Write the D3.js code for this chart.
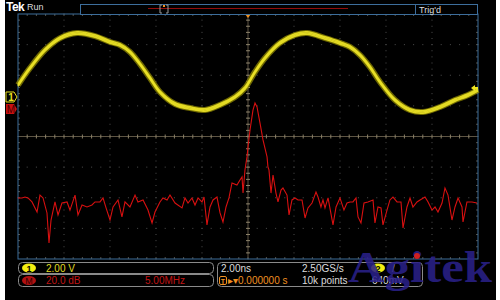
<!DOCTYPE html>
<html>
<head>
<meta charset="utf-8">
<script src="https://cdn.jsdelivr.net/npm/d3@7"></script>
<style>
  html, body { margin: 0; padding: 0; background: #fff; }
  svg { display: block; font-family: "Liberation Sans", Arial, sans-serif; }
</style>
</head>
<body>
<svg id="scope" width="500" height="300"></svg>
<script>
// channel 1 (yellow) - time in ns, level in volts
const ch1Time  = [-10.0, -9.48, -8.83, -8.17, -7.43, -6.65, -6.0, -5.57, -5.13, -4.70, -4.26, -3.83, -3.17, -2.52, -1.87, -1.22, -0.57, -0.13,
                  0.30, 0.74, 1.39, 2.04, 2.57, 3.35, 4.0, 4.43, 4.87, 5.30, 5.74, 6.39, 7.04, 7.61, 8.35, 9.0, 9.57, 10.0];
const ch1Volts = [0.78, 1.89, 3.07, 3.85, 4.18, 3.98, 3.59, 3.40, 2.94, 2.16, 1.24, 0.33, -0.46, -0.72, -0.85, -0.52, 0.0, 0.59,
                  1.63, 2.55, 3.53, 4.05, 4.18, 3.85, 3.53, 3.27, 2.74, 1.96, 0.98, -0.20, -0.85, -0.98, -0.65, -0.20, 0.13, 0.46];

// math trace M (red FFT) - frequency in MHz, magnitude in dB
const fftFreq = [0.0, 0.43, 0.76, 1.09, 1.52, 2.07, 2.39, 2.72, 3.15, 3.37, 3.59, 4.02, 4.35, 4.78, 5.33, 5.65, 6.20, 6.52, 6.96, 7.50,
  8.04, 8.37, 8.91, 9.24, 9.57, 10.0, 10.33, 10.87, 11.30, 11.63, 12.17, 12.72, 13.04, 13.59, 14.13, 14.57, 14.89, 15.43, 15.76, 16.20,
  16.52, 17.07, 17.83, 18.15, 18.48, 18.91, 19.24, 19.57, 20.0, 20.22, 20.54, 20.87, 21.20, 21.63, 21.96, 22.28, 22.61, 22.93, 23.26, 23.80,
  24.13, 24.35, 24.46, 24.67, 24.89, 25.0, 25.22, 25.54, 25.76, 25.98, 26.30, 26.63, 27.07, 27.17, 27.28, 27.50, 27.72, 28.04, 28.26, 28.59,
  28.80, 29.24, 29.46, 29.78, 30.11, 30.43, 30.87, 31.20, 31.52, 31.96, 32.39, 32.61, 32.93, 33.15, 33.37, 33.70, 34.24, 34.57, 35.0, 35.43,
  35.76, 36.09, 36.41, 36.74, 36.96, 37.28, 37.61, 38.04, 38.59, 38.80, 39.13, 39.46, 39.67, 40.11, 40.43, 40.76, 41.20, 41.63, 41.85, 42.28,
  42.61, 42.93, 43.37, 43.70, 44.24, 44.57, 45.0, 45.33, 45.65, 46.09, 46.41, 46.74, 47.17, 47.50, 47.83, 48.26, 48.37, 48.80, 49.35, 49.89];
const fftDb = [-58.1, -58.1, -57.5, -58.1, -60.7, -67.3, -56.2, -58.1, -67.9, -87.5, -72.5, -60.7, -69.2, -61.4, -60.7, -66.0, -56.2, -69.2, -62.7, -64.0,
  -62.7, -60.7, -60.7, -58.1, -64.6, -72.5, -64.0, -59.4, -70.5, -60.7, -64.0, -56.2, -60.7, -59.4, -66.0, -74.4, -67.3, -60.7, -58.1, -59.4,
  -56.2, -61.4, -64.6, -58.1, -61.4, -58.1, -62.7, -58.1, -60.7, -57.5, -75.7, -64.0, -59.4, -57.5, -67.9, -73.8, -64.0, -58.1, -48.3, -49.6,
  -46.4, -44.4, -54.9, -39.8, -31.3, -24.8, -13.7, -0.7, 3.9, 1.3, -9.1, -20.2, -31.3, -37.9, -39.8, -54.9, -43.1, -54.9, -60.7, -52.9,
  -51.6, -56.2, -69.2, -59.4, -58.1, -59.4, -59.4, -71.2, -64.6, -61.4, -54.2, -57.5, -64.0, -59.4, -64.6, -58.1, -75.7, -64.0, -58.1, -66.0,
  -61.4, -60.7, -60.7, -58.1, -70.5, -74.4, -61.4, -60.7, -59.4, -74.4, -64.0, -64.6, -75.7, -66.0, -59.4, -57.5, -60.7, -60.7, -77.7, -64.0,
  -58.1, -64.0, -60.7, -59.4, -57.5, -60.7, -66.0, -64.0, -67.3, -61.4, -51.6, -56.2, -72.5, -64.0, -58.1, -64.0, -73.8, -60.7, -60.7, -61.4];

// readouts
const ch1Scale = '2.00 V';
const mathScale = ['20.0 dB', '5.00MHz'];
const timeReadout = ['2.00ns', '2.50GS/s', '10k points'];
const trigPosition = '0.000000 s';
const trigLevel = '640mV';

const svg = d3.select('#scope');
const gLeft = 18, gRight = 478, gTop = 14, gBottom = 259;

// time base 2 ns/div, 10 divs
const x = d3.scaleLinear().domain([-10, 10]).range([gLeft, gRight]);
// grid in divisions
const gx = d3.scaleLinear().domain([0, 10]).range([gLeft, gRight]);
const gy = d3.scaleLinear().domain([-4, 4]).range([gBottom, gTop]);
// ch1 2 V/div, ground marker 1.29 div above centre
const y1 = d3.scaleLinear().domain([-10.58, 5.42]).range([gBottom, gTop]);
// math 20 dB/div, 5 MHz/div
const xf = d3.scaleLinear().domain([0, 50]).range([gLeft, gRight]);
const ym = d3.scaleLinear().domain([-97.96, 62.04]).range([gBottom, gTop]);

svg.append('rect').attr('x', 5).attr('y', 0).attr('width', 491).attr('height', 300).attr('fill', '#000');

// graticule dots
const grid = svg.append('g');
d3.range(1, 10).forEach(i => {
  d3.range(0, 8 * 5 + 1).forEach(k => {
    grid.append('rect').attr('x', gx(i) - 0.5).attr('y', gy(-4 + k / 5) - 0.5)
      .attr('width', 1).attr('height', 1).attr('fill', '#4d4d4d');
  });
});
d3.range(-3, 4).forEach(j => {
  d3.range(0, 10 * 5 + 1).forEach(k => {
    grid.append('rect').attr('x', gx(k / 5) - 0.5).attr('y', gy(j) - 0.5)
      .attr('width', 1).attr('height', 1).attr('fill', '#4d4d4d');
  });
});

// centre cross with minor ticks
const cross = svg.append('g').attr('stroke', '#5e5544');
cross.append('line').attr('x1', gLeft).attr('x2', gRight).attr('y1', gy(0)).attr('y2', gy(0));
cross.append('line').attr('x1', gx(5)).attr('x2', gx(5)).attr('y1', gTop).attr('y2', gBottom);
d3.range(1, 50).forEach(k => {
  cross.append('line').attr('x1', gx(k / 5)).attr('x2', gx(k / 5))
    .attr('y1', gy(0) - 2).attr('y2', gy(0) + 2).attr('stroke', '#8a8068');
});
d3.range(1, 40).forEach(k => {
  cross.append('line').attr('y1', gy(-4 + k / 5)).attr('y2', gy(-4 + k / 5))
    .attr('x1', gx(5) - 2).attr('x2', gx(5) + 2).attr('stroke', '#8a8068');
});

// border ticks
const edge = svg.append('g').attr('stroke', '#55524a');
d3.range(1, 50).forEach(k => {
  edge.append('line').attr('x1', gx(k / 5)).attr('x2', gx(k / 5)).attr('y1', gTop).attr('y2', gTop + 2);
  edge.append('line').attr('x1', gx(k / 5)).attr('x2', gx(k / 5)).attr('y1', gBottom).attr('y2', gBottom - 2);
});
d3.range(1, 40).forEach(k => {
  edge.append('line').attr('y1', gy(-4 + k / 5)).attr('y2', gy(-4 + k / 5)).attr('x1', gLeft).attr('x2', gLeft + 2);
  edge.append('line').attr('y1', gy(-4 + k / 5)).attr('y2', gy(-4 + k / 5)).attr('x1', gRight).attr('x2', gRight - 2);
});

svg.append('rect').attr('x', gLeft).attr('y', gTop).attr('width', gRight - gLeft).attr('height', gBottom - gTop)
  .attr('fill', 'none').attr('stroke', '#3d6e9c');

// math (FFT) trace
const mathLine = d3.line().x(d => xf(d[0])).y(d => ym(d[1]));
svg.append('path').datum(d3.zip(fftFreq, fftDb)).attr('d', mathLine)
  .attr('fill', 'none').attr('stroke', '#d81010').attr('stroke-width', 1.1);

// ch1 trace, a few overlapping acquisitions for the persistence look
const ch1Line = d3.line().x(d => x(d[0])).y(d => y1(d[1])).curve(d3.curveCatmullRom);
const ch1 = d3.zip(ch1Time, ch1Volts);
svg.append('path').datum(ch1).attr('d', ch1Line).attr('fill', 'none')
  .attr('stroke', '#8a8200').attr('stroke-width', 6).attr('opacity', 0.8);
[-1.2, 0, 1.2].forEach(off => {
  svg.append('path').datum(ch1).attr('d', ch1Line).attr('transform', `translate(0,${off})`)
    .attr('fill', 'none').attr('stroke', '#ece327').attr('stroke-width', 1.6).attr('opacity', 0.9);
});

// trigger position marker and trigger level arrow
svg.append('path').attr('d', `M${x(0) - 3},${gTop} L${x(0) + 3},${gTop} L${x(0)},${gTop + 4} Z`).attr('fill', '#f09020');
svg.append('path').attr('d', `M${gRight - 7},${y1(0.59)} L${gRight - 3},${y1(0.59) - 3} L${gRight - 3},${y1(0.59) + 3} Z`).attr('fill', '#f0e820');
svg.append('line').attr('x1', gRight - 4).attr('x2', gRight).attr('y1', y1(0.59)).attr('y2', y1(0.59))
  .attr('stroke', '#f0e820').attr('stroke-width', 2);

// channel ground markers
const g1 = y1(0);
svg.append('path').attr('d', `M6,${g1 - 5} L14,${g1 - 5} L17,${g1} L14,${g1 + 5} L6,${g1 + 5} Z`)
  .attr('fill', '#000').attr('stroke', '#e8e020');
svg.append('text').attr('x', 11).attr('y', g1 + 4).attr('text-anchor', 'middle')
  .attr('font-size', 10).attr('font-weight', 'bold').attr('fill', '#e8e020').text('1');
const gm = ym(0);
svg.append('path').attr('d', `M6,${gm - 5} L14,${gm - 5} L17,${gm} L14,${gm + 5} L6,${gm + 5} Z`).attr('fill', '#c81010');
svg.append('text').attr('x', 11).attr('y', gm + 4).attr('text-anchor', 'middle')
  .attr('font-size', 10).attr('fill', '#4a0000').text('M');

// top status bar
svg.append('text').attr('x', 6).attr('y', 11).attr('font-size', 12).attr('font-weight', 'bold')
  .attr('fill', '#fff').attr('letter-spacing', -0.5).text('Tek');
svg.append('text').attr('x', 27).attr('y', 10).attr('font-size', 9).attr('fill', '#ddd').text('Run');
svg.append('rect').attr('x', 80.5).attr('y', 4.5).attr('width', 335).attr('height', 10)
  .attr('fill', '#000').attr('stroke', '#3d6e9c');
svg.append('line').attr('x1', 148).attr('x2', 348).attr('y1', 8.5).attr('y2', 8.5).attr('stroke', '#900c0c');
svg.append('path').attr('d', 'M162,5 L160,5 L160,13 L162,13 M166,5 L168,5 L168,13 L166,13')
  .attr('fill', 'none').attr('stroke', '#9a9a9a');
svg.append('rect').attr('x', 163).attr('y', 5).attr('width', 2).attr('height', 2).attr('fill', '#f09020');
svg.append('rect').attr('x', 415.5).attr('y', 4.5).attr('width', 62).attr('height', 10)
  .attr('fill', '#000').attr('stroke', '#3d6e9c');
svg.append('text').attr('x', 419).attr('y', 12.5).attr('font-size', 9).attr('fill', '#ddd').text("Trig'd");

// bottom readouts
const panel = svg.append('g');
panel.append('rect').attr('x', 18.5).attr('y', 262.5).attr('width', 195).attr('height', 11).attr('rx', 4)
  .attr('fill', 'none').attr('stroke', '#8a8a8a');
panel.append('rect').attr('x', 18.5).attr('y', 274.5).attr('width', 195).attr('height', 12).attr('rx', 4)
  .attr('fill', 'none').attr('stroke', '#8a8a8a');
panel.append('ellipse').attr('cx', 29).attr('cy', 268).attr('rx', 7).attr('ry', 4.5).attr('fill', '#f4ee10');
panel.append('text').attr('x', 29).attr('y', 271.5).attr('text-anchor', 'middle').attr('font-size', 9)
  .attr('font-weight', 'bold').attr('fill', '#000').text('1');
panel.append('text').attr('x', 46).attr('y', 271.5).attr('font-size', 10).attr('fill', '#e2dc22').text(ch1Scale);
panel.append('ellipse').attr('cx', 29).attr('cy', 280.5).attr('rx', 7).attr('ry', 4.5).attr('fill', '#b01010');
panel.append('text').attr('x', 29).attr('y', 284).attr('text-anchor', 'middle').attr('font-size', 9)
  .attr('fill', '#300000').text('M');
panel.append('text').attr('x', 46).attr('y', 284).attr('font-size', 10).attr('fill', '#c01414').text(mathScale[0]);
panel.append('text').attr('x', 145).attr('y', 284).attr('font-size', 10).attr('fill', '#c01414').text(mathScale[1]);

panel.append('rect').attr('x', 217.5).attr('y', 262.5).attr('width', 205).attr('height', 24).attr('rx', 4)
  .attr('fill', 'none').attr('stroke', '#8a8a8a');
panel.append('text').attr('x', 221).attr('y', 271.5).attr('font-size', 10).attr('fill', '#ddd').text(timeReadout[0]);
panel.append('text').attr('x', 302).attr('y', 271.5).attr('font-size', 10).attr('fill', '#ddd').text(timeReadout[1]);
panel.append('text').attr('x', 302).attr('y', 284).attr('font-size', 10).attr('fill', '#ddd').text(timeReadout[2]);
panel.append('rect').attr('x', 219.5).attr('y', 276.5).attr('width', 7).attr('height', 8).attr('rx', 1.5)
  .attr('fill', 'none').attr('stroke', '#f09020');
panel.append('text').attr('x', 223).attr('y', 283.5).attr('text-anchor', 'middle').attr('font-size', 7)
  .attr('font-weight', 'bold').attr('fill', '#f09020').text('T');
panel.append('text').attr('x', 228).attr('y', 284).attr('font-size', 10).attr('fill', '#f09020')
  .text('\u25B8\u25BE' + trigPosition);
panel.append('ellipse').attr('cx', 378).attr('cy', 268).attr('rx', 7).attr('ry', 4.5).attr('fill', '#f4ee10');
panel.append('text').attr('x', 378).attr('y', 271.5).attr('text-anchor', 'middle').attr('font-size', 9)
  .attr('font-weight', 'bold').attr('fill', '#000').text('2');
panel.append('text').attr('x', 392).attr('y', 271.5).attr('font-size', 10).attr('fill', '#ddd').text('/');
panel.append('text').attr('x', 372).attr('y', 284).attr('font-size', 10).attr('fill', '#ddd').text(trigLevel);

// watermark
svg.append('text').attr('x', 348).attr('y', 282).attr('font-family', '"Liberation Serif", "DejaVu Serif", serif')
  .attr('font-size', 44).attr('font-weight', 'bold').attr('textLength', 144).attr('lengthAdjust', 'spacingAndGlyphs')
  .attr('fill', '#2a2088').attr('opacity', 0.88).text('Agitek');
svg.append('circle').attr('cx', 417).attr('cy', 256).attr('r', 3).attr('fill', '#d02020');
</script>
</body>
</html>
